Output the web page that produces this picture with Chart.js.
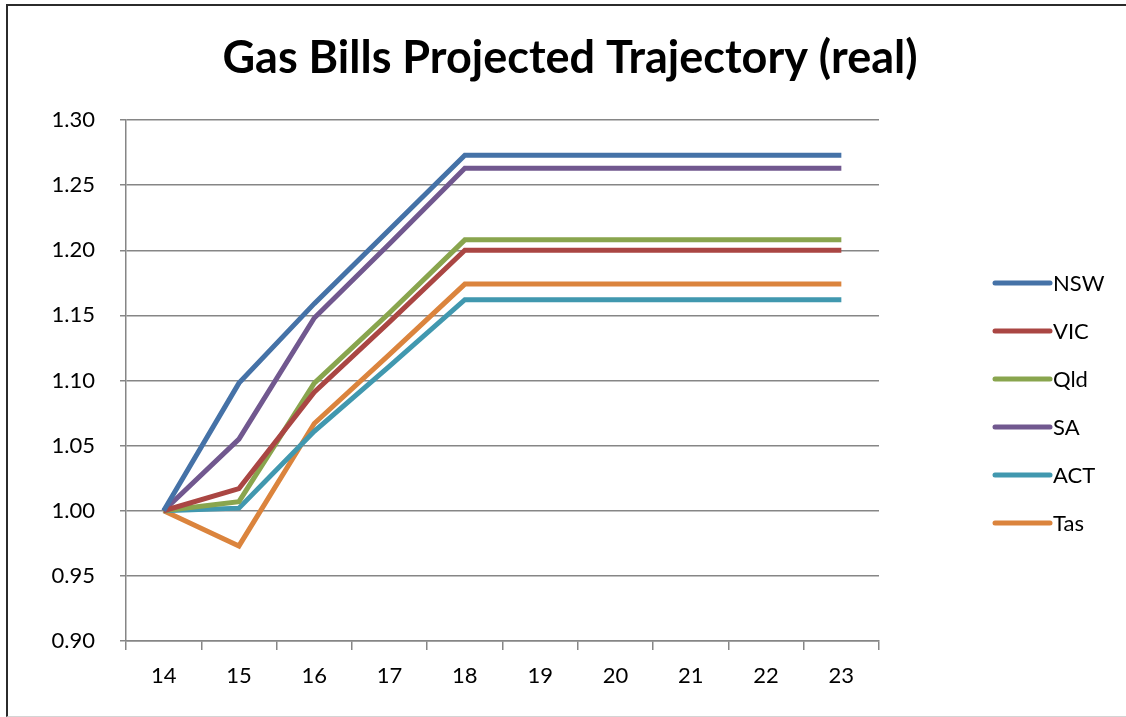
<!DOCTYPE html>
<html>
<head>
<meta charset="utf-8">
<script src="https://cdn.jsdelivr.net/npm/chart.js@4"></script>
<style>
  html, body { margin: 0; padding: 0; background: #fff; overflow: hidden; }
  #wrap { position: relative; width: 1126px; height: 717px; }
  #frame {
    position: absolute; left: 6px; top: 4px; width: 1130px; height: 710px;
    border-left: 2px solid #2b2b2b; border-top: 2px solid #2b2b2b;
    border-bottom: 1px solid #d4d4d4; pointer-events: none;
  }
</style>
</head>
<body>
<div id="wrap">
  <canvas id="myChart" width="1126" height="717"></canvas>
  <div id="frame"></div>
</div>
<script>
// x-axis categories (years)
const years = ['14', '15', '16', '17', '18', '19', '20', '21', '22', '23'];

// series values
const nsw = [1.000, 1.098, 1.159, 1.216, 1.273, 1.273, 1.273, 1.273, 1.273, 1.273];
const vic = [1.000, 1.017, 1.091, 1.145, 1.200, 1.200, 1.200, 1.200, 1.200, 1.200];
const qld = [1.000, 1.007, 1.098, 1.152, 1.208, 1.208, 1.208, 1.208, 1.208, 1.208];
const sa  = [1.000, 1.055, 1.148, 1.205, 1.263, 1.263, 1.263, 1.263, 1.263, 1.263];
const act = [1.000, 1.002, 1.061, 1.111, 1.162, 1.162, 1.162, 1.162, 1.162, 1.162];
const tas = [1.000, 0.973, 1.067, 1.120, 1.174, 1.174, 1.174, 1.174, 1.174, 1.174];

const seriesNames = ['NSW', 'VIC', 'Qld', 'SA', 'ACT', 'Tas'];
const seriesColors = ['#4572A7', '#AA4643', '#89A54E', '#71588F', '#4198AF', '#DB843D'];
const seriesData = [nsw, vic, qld, sa, act, tas];

const chartTitle = 'Gas Bills Projected Trajectory (real)';
const fontFam = 'Lato, "Open Sans", sans-serif';

// title + legend drawn by hand so they sit where the Excel ones do
const decorations = {
  id: 'decorations',
  afterDraw(chart) {
    const ctx = chart.ctx;
    const area = chart.chartArea;
    ctx.save();
    // title, centred on the whole picture
    ctx.fillStyle = '#000';
    ctx.font = 'bold 45px ' + fontFam;
    ctx.textAlign = 'center';
    ctx.textBaseline = 'middle';
    ctx.fillText(chartTitle, chart.width / 2 + 7, 58);

    // legend on the right
    const x0 = area.right + 116;
    let y = area.top + 163;
    ctx.textAlign = 'left';
    chart.data.datasets.forEach((ds) => {
      ctx.strokeStyle = ds.borderColor;
      ctx.lineWidth = 5;
      ctx.lineCap = 'round';
      ctx.beginPath();
      ctx.moveTo(x0, y);
      ctx.lineTo(x0 + 55, y);
      ctx.stroke();
      ctx.fillStyle = '#000';
      ctx.font = '22px ' + fontFam;
      ctx.fillText(ds.label, x0 + 58, y + 1);
      y += 48;
    });
    ctx.restore();
  }
};

const datasets = seriesNames.map((name, i) => ({
  label: name,
  data: seriesData[i],
  borderColor: seriesColors[i],
  backgroundColor: seriesColors[i],
  borderWidth: 5,
  pointRadius: 0,
  fill: false,
  tension: 0
}));

new Chart(document.getElementById('myChart'), {
  type: 'line',
  data: { labels: years, datasets: datasets },
  plugins: [decorations],
  options: {
    responsive: false,
    animation: false,
    layout: { padding: { left: 0, right: 247, top: 120, bottom: 0 } },
    scales: {
      x: {
        offset: true,
        grid: {
          offset: true,
          drawOnChartArea: false,
          drawTicks: true,
          tickLength: 9,
          color: '#868686',
          lineWidth: 1.5
        },
        border: { color: '#868686', width: 1.5 },
        ticks: {
          color: '#000',
          padding: 13,
          font: { family: fontFam, size: 22 }
        },
        afterFit: (scale) => { scale.height = 76; }
      },
      y: {
        min: 0.9,
        max: 1.3,
        ticks: {
          stepSize: 0.05,
          color: '#000',
          padding: 25,
          font: { family: fontFam, size: 22 },
          callback: (v) => v.toFixed(2)
        },
        grid: { color: '#868686', lineWidth: 1.5, tickLength: 6 },
        border: { color: '#868686', width: 1.5 },
        afterFit: (scale) => { scale.width = 126; }
      }
    },
    plugins: {
      legend: { display: false },
      tooltip: { enabled: false },
      title: { display: false }
    }
  }
});
</script>
</body>
</html>
